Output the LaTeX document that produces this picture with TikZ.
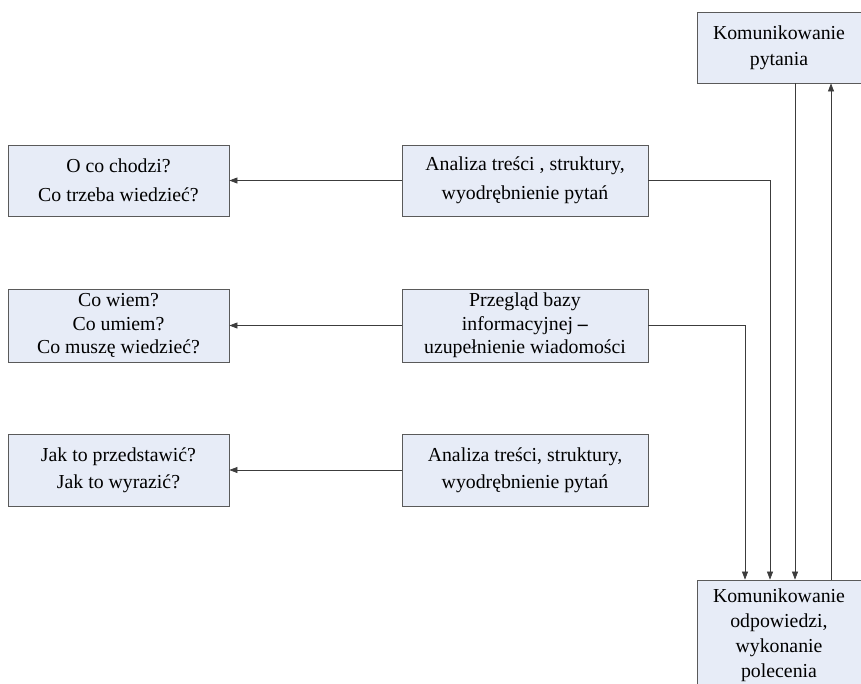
\documentclass[tikz,border=0pt]{standalone}
\usepackage{fontspec}
\setmainfont{Liberation Serif}
\usetikzlibrary{arrows.meta}
\definecolor{boxfill}{RGB}{231,236,247}
\definecolor{boxline}{RGB}{90,90,90}
\definecolor{conline}{RGB}{60,60,60}
\tikzset{
  box/.style={draw=boxline, fill=boxfill, line width=0.8pt, rectangle, align=center, inner sep=0pt},
  leftbox/.style={box, minimum width=221pt},
  midbox/.style={box, minimum width=246pt},
  rightbox/.style={box, minimum width=164pt},
  arr/.style={draw=conline, line width=0.7pt, -{Triangle[length=8pt,width=6pt]}},
  txt/.style={font=\fontsize{19.8}{#1}\selectfont},
}
\begin{document}
\begin{tikzpicture}[x=1pt,y=-1pt]
\useasboundingbox (0,0) rectangle (861,683);
% right column
\node[rightbox, minimum height=71pt, txt=26] (top) at (779,47.5) {Komunikowanie\\pytania};
\node[rightbox, minimum height=110pt, txt=25] (bot) at (779,635) {Komunikowanie\\odpowiedzi,\\wykonanie\\polecenia};
% rows
\node[leftbox, minimum height=71pt, txt=29] (l1) at (118.5,180.5) {O co chodzi?\\Co trzeba wiedzieć?};
\node[midbox, minimum height=71pt, txt=29] (m1) at (525,180.5) {Analiza treści , struktury,\\wyodrębnienie pytań};
\node[leftbox, minimum height=73pt, txt=23.5] (l2) at (118.5,325.5) {Co wiem?\\Co umiem?\\Co muszę wiedzieć?};
\node[midbox, minimum height=73pt, txt=23.5] (m2) at (525,325.5) {Przegląd bazy\\informacyjnej \textbf{–}\\uzupełnienie wiadomości};
\node[leftbox, minimum height=72pt, txt=27] (l3) at (118.5,470) {Jak to przedstawić?\\Jak to wyrazić?};
\node[midbox, minimum height=72pt, txt=27] (m3) at (525,470) {Analiza treści, struktury,\\wyodrębnienie pytań};
% helper x-positions
\coordinate (x745) at (745,0);
\coordinate (x770) at (770,0);
\coordinate (x795) at (795,0);
\coordinate (x831) at (831,0);
% connectors
\draw[arr] (m1.west) -- (l1.east);
\draw[arr] (m2.west) -- (l2.east);
\draw[arr] (m3.west) -- (l3.east);
\draw[arr] (m1.east) -| (bot.north -| x770);
\draw[arr] (m2.east) -| (bot.north -| x745);
\draw[arr] (top.south -| x795) -- (bot.north -| x795);
\draw[arr] (bot.north -| x831) -- (top.south -| x831);
\end{tikzpicture}
\end{document}
